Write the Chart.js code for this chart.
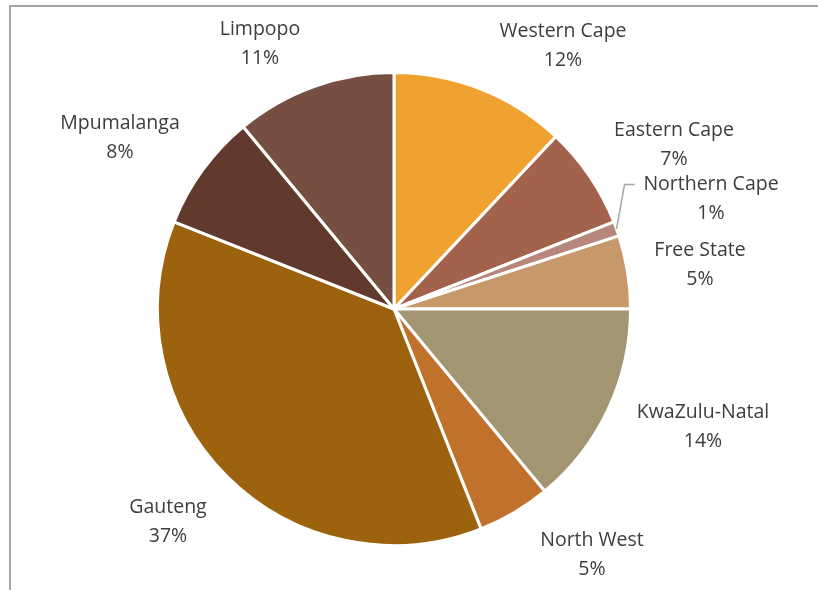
<!DOCTYPE html>
<html lang="en">
<head>
<meta charset="UTF-8" />
<title>Provincial share</title>
<script src="https://cdn.jsdelivr.net/npm/chart.js"></script>
<style>
	* { box-sizing: border-box; }
	html, body { margin: 0; padding: 0; background: #ffffff; }
	.wrap { position: relative; width: 818px; height: 590px; overflow: hidden; }
	.frame {
		position: absolute;
		left: 9px;
		top: 5px;
		width: 900px;
		height: 700px;
		border-left: 2px solid #a6a6a6;
		border-top: 2px solid #a6a6a6;
	}
	canvas { position: absolute; left: 0; top: 0; }
</style>
</head>
<body>
<div class="wrap">
	<div class="frame"></div>
	<canvas id="pie" width="818" height="590"></canvas>
</div>
<script>
const provinces = ['Western Cape', 'Eastern Cape', 'Northern Cape', 'Free State', 'KwaZulu-Natal', 'North West', 'Gauteng', 'Mpumalanga', 'Limpopo'];
const shares = [12, 7, 1, 5, 14, 5, 37, 8, 11];
const sliceColors = ['#efa22f', '#a3624b', '#b8877b', '#c6986a', '#a29572', '#c0712b', '#9d620e', '#61392d', '#764f42'];

// label block centres, relative to the pie centre
const labelOffsets = [
	[169, -263], [280, -164], [317, -110], [306, -44], [309, 118],
	[198, 246], [-226, 213], [-274, -171], [-134, -265]
];

const labelFont = '19.5px "Open Sans", "Liberation Sans", sans-serif';
const lineGap = 29;

const outsideLabels = {
	id: 'outsideLabels',
	afterDatasetsDraw(chart) {
		const ctx = chart.ctx;
		const meta = chart.getDatasetMeta(0);
		ctx.save();
		ctx.font = labelFont;
		ctx.fillStyle = '#3d3d3d';
		ctx.textAlign = 'center';
		ctx.textBaseline = 'middle';
		meta.data.forEach((arc, i) => {
			const [dx, dy] = labelOffsets[i];
			const cx = arc.x + dx;
			const cy = arc.y + dy;
			ctx.fillText(provinces[i], cx, cy - lineGap / 2);
			ctx.fillText(shares[i] + '%', cx, cy + lineGap / 2);

			// the thin slice gets a leader line up to its label
			if (shares[i] < 2) {
				const mid = (arc.startAngle + arc.endAngle) / 2;
				const px = arc.x + Math.cos(mid) * arc.outerRadius;
				const py = arc.y + Math.sin(mid) * arc.outerRadius;
				const ly = cy - lineGap / 2;
				ctx.strokeStyle = '#a6a6a6';
				ctx.lineWidth = 1.5;
				ctx.beginPath();
				ctx.moveTo(px, py);
				ctx.lineTo(px + 8, ly);
				ctx.lineTo(px + 18, ly);
				ctx.stroke();
			}
		});
		ctx.restore();
	}
};

new Chart(document.getElementById('pie'), {
	type: 'pie',
	data: {
		labels: provinces,
		datasets: [{
			data: shares,
			backgroundColor: sliceColors,
			borderColor: '#ffffff',
			borderWidth: 3,
		}],
	},
	options: {
		responsive: false,
		animation: false,
		events: [],
		layout: {
			padding: { left: 156, right: 186, top: 71, bottom: 43 },
		},
		plugins: {
			legend: { display: false },
			tooltip: { enabled: false },
		},
	},
	plugins: [outsideLabels],
});
</script>
</body>
</html>
